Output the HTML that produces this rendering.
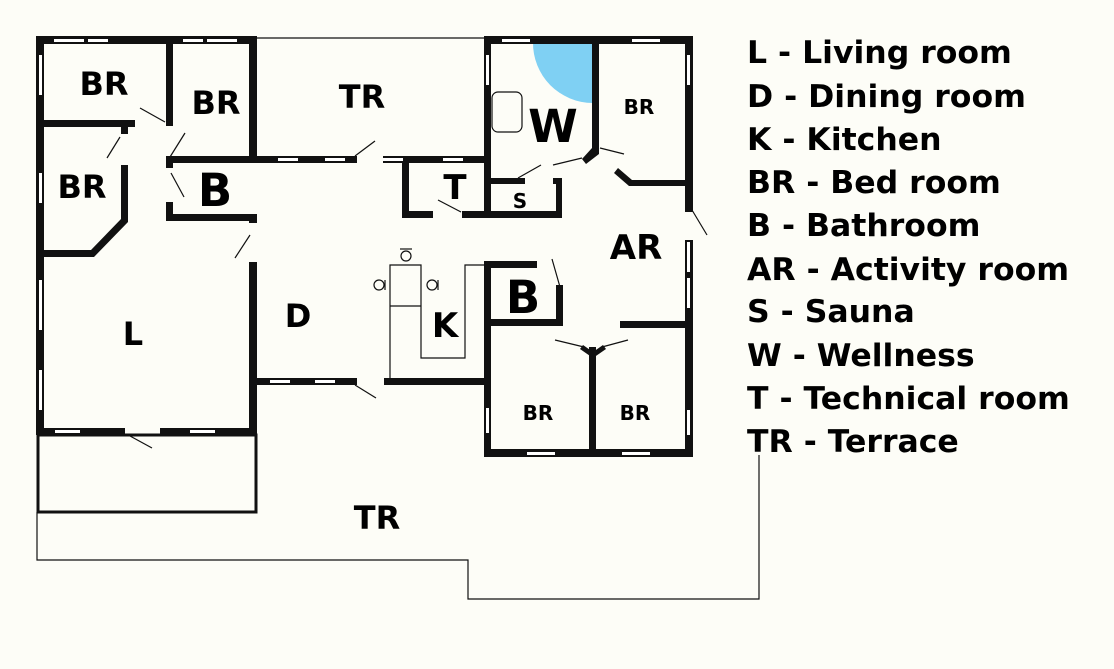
<!DOCTYPE html>
<html><head><style>
body{margin:0;background:#fdfdf7;}
svg{display:block}
.l{font-family:"DejaVu Sans","Liberation Sans",sans-serif;font-weight:bold;fill:#000}
</style></head><body>
<svg width="1114" height="669" xmlns="http://www.w3.org/2000/svg">
<rect width="1114" height="669" fill="#fdfdf7"/>
<path d="M593 42 L533 42 A60 60 0 0 0 593 103 Z" fill="#7fd0f3"/>
<g fill="#111">
<rect x="37" y="36" width="220" height="8"/>
<rect x="36" y="36" width="8" height="399"/>
<rect x="249" y="36" width="8" height="127"/>
<rect x="166" y="40" width="7" height="86"/>
<rect x="37" y="120" width="98" height="7"/>
<rect x="121" y="124" width="7" height="10"/>
<rect x="121" y="165" width="7" height="55"/>
<polygon points="121,218 128,218 128,222 94,257 40,257 40,250 91,250 121,219"/>
<rect x="166" y="156" width="91" height="7"/>
<rect x="166" y="156" width="7" height="12"/>
<rect x="166" y="202" width="7" height="19"/>
<rect x="166" y="214" width="91" height="7"/>
<rect x="249" y="218" width="8" height="5"/>
<rect x="249" y="262" width="8" height="173"/>
<rect x="37" y="428" width="88" height="7"/>
<rect x="160" y="428" width="97" height="7"/>
<rect x="253" y="156" width="104" height="7"/>
<rect x="383" y="156" width="108" height="7"/>
<rect x="402" y="160" width="7" height="58"/>
<rect x="402" y="211" width="31" height="7"/>
<rect x="462" y="211" width="100" height="7"/>
<rect x="484" y="160" width="7" height="58"/>
<rect x="487" y="178" width="38" height="6"/>
<rect x="553" y="178" width="9" height="6"/>
<rect x="556" y="178" width="6" height="40"/>
<rect x="484" y="36" width="209" height="8"/>
<rect x="484" y="36" width="7" height="127"/>
<rect x="592" y="40" width="7" height="112"/>
<polygon points="592,148 599,148 599,154 586,164 582,159"/>
<polygon points="618,168 632,180 690,180 690,186 629,186 614,173"/>
<rect x="685" y="36" width="8" height="176"/>
<rect x="685" y="240" width="8" height="217"/>
<rect x="484" y="261" width="53" height="7"/>
<rect x="484" y="261" width="7" height="196"/>
<rect x="556" y="285" width="7" height="41"/>
<rect x="484" y="319" width="77" height="7"/>
<rect x="620" y="321" width="70" height="7"/>
<rect x="589" y="347" width="7" height="110"/>
<polygon points="583,345 593,352 603,345 606,349 593,358 580,349"/>
<rect x="484" y="449" width="209" height="8"/>
<rect x="253" y="378" width="104" height="7"/>
<rect x="384" y="378" width="107" height="7"/>
</g>
<g fill="#fff">
<rect x="54" y="39" width="30" height="3"/><rect x="88" y="39" width="20" height="3"/>
<rect x="183" y="39" width="20" height="3"/><rect x="207" y="39" width="30" height="3"/>
<rect x="39" y="55" width="3" height="40"/><rect x="39" y="173" width="3" height="30"/>
<rect x="39" y="280" width="3" height="50"/><rect x="39" y="370" width="3" height="40"/>
<rect x="278" y="158" width="20" height="3"/><rect x="325" y="158" width="20" height="3"/>
<rect x="383" y="158" width="20" height="3"/><rect x="443" y="158" width="20" height="3"/>
<rect x="502" y="39" width="28" height="3"/><rect x="632" y="39" width="28" height="3"/>
<rect x="486" y="55" width="3" height="30"/><rect x="687" y="55" width="3" height="30"/>
<rect x="687" y="242" width="3" height="30"/><rect x="687" y="278" width="3" height="30"/>
<rect x="687" y="410" width="3" height="25"/><rect x="486" y="408" width="3" height="25"/>
<rect x="527" y="452" width="28" height="3"/><rect x="622" y="452" width="28" height="3"/>
<rect x="270" y="380" width="20" height="3"/><rect x="315" y="380" width="20" height="3"/>
<rect x="55" y="430" width="25" height="3"/><rect x="190" y="430" width="25" height="3"/>
</g>
<g stroke="#111" fill="none" stroke-width="1.2">
<line x1="257" y1="38" x2="485" y2="38"/>
<rect x="38" y="435" width="218" height="77" stroke-width="3"/>
<polyline points="37,512 37,560 468,560 468,599 759,599 759,455"/>
<rect x="492" y="92" width="30" height="40" rx="6"/>
<polyline points="390,378 390,265 421,265 421,358 465,358 465,265 485,265"/>
<line x1="390" y1="306" x2="421" y2="306"/>
<circle cx="406" cy="256" r="5"/><line x1="400" y1="249" x2="412" y2="249"/>
<circle cx="379" cy="285" r="5"/><line x1="385" y1="280" x2="385" y2="290"/>
<circle cx="432" cy="285" r="5"/><line x1="438" y1="280" x2="438" y2="290"/>
<line x1="140" y1="108" x2="165" y2="122"/>
<line x1="107" y1="158" x2="120" y2="137"/>
<line x1="170" y1="157" x2="185" y2="133"/>
<line x1="171" y1="173" x2="184" y2="197"/>
<line x1="235" y1="258" x2="250" y2="235"/>
<line x1="355" y1="156" x2="375" y2="141"/>
<line x1="438" y1="200" x2="461" y2="212"/>
<line x1="518" y1="178" x2="541" y2="165"/>
<line x1="553" y1="165" x2="582" y2="158"/>
<line x1="600" y1="148" x2="624" y2="154"/>
<line x1="692" y1="210" x2="707" y2="235"/>
<line x1="552" y1="259" x2="560" y2="287"/>
<line x1="555" y1="340" x2="584" y2="347"/>
<line x1="602" y1="347" x2="628" y2="340"/>
<line x1="355" y1="385" x2="376" y2="398"/>
<line x1="130" y1="436" x2="152" y2="448"/>
</g>
<g class="l" text-anchor="middle">
<text x="104" y="95" font-size="32">BR</text>
<text x="216" y="114" font-size="32">BR</text>
<text x="82" y="198" font-size="32">BR</text>
<text x="215" y="206" font-size="45">B</text>
<text x="362" y="108" font-size="32">TR</text>
<text x="455" y="199" font-size="34">T</text>
<text x="520" y="208" font-size="20">S</text>
<text x="553" y="142" font-size="45">W</text>
<text x="639" y="114" font-size="20">BR</text>
<text x="636" y="259" font-size="34">AR</text>
<text x="523" y="313" font-size="45">B</text>
<text x="445" y="337" font-size="34">K</text>
<text x="298" y="327" font-size="32">D</text>
<text x="133" y="345" font-size="32">L</text>
<text x="538" y="420" font-size="20">BR</text>
<text x="635" y="420" font-size="20">BR</text>
<text x="377" y="529" font-size="32">TR</text>
</g>
<g class="l" font-size="31.5">
<text x="747" y="63">L - Living room</text>
<text x="747" y="107">D - Dining room</text>
<text x="747" y="150">K - Kitchen</text>
<text x="747" y="193">BR - Bed room</text>
<text x="747" y="236">B - Bathroom</text>
<text x="747" y="280">AR - Activity room</text>
<text x="747" y="322">S - Sauna</text>
<text x="747" y="366">W - Wellness</text>
<text x="747" y="409">T - Technical room</text>
<text x="747" y="452">TR - Terrace</text>
</g>
</svg>
</body></html>
